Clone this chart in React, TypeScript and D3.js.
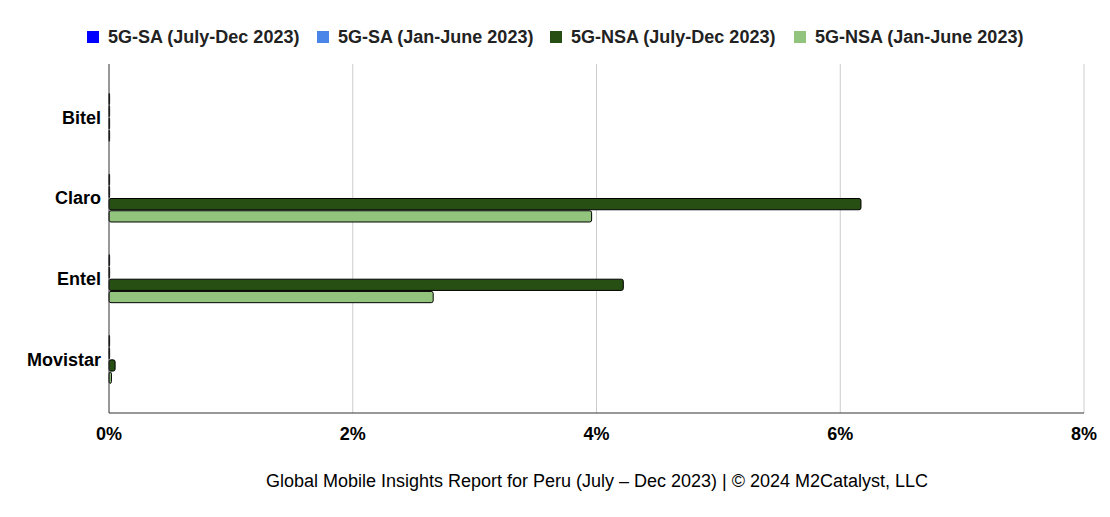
import React from "react";
import * as d3 from "d3";

const categories = ["Bitel", "Claro", "Entel", "Movistar"];
const seriesNames = [
  "5G-SA (July-Dec 2023)",
  "5G-SA (Jan-June 2023)",
  "5G-NSA (July-Dec 2023)",
  "5G-NSA (Jan-June 2023)",
];
const seriesColors = ["#0000ff", "#4a86e8", "#274e13", "#93c47d"];
const saJulDec = [0.005, 0.005, 0.005, 0.005];
const saJanJun = [0.005, 0.005, 0.005, 0.005];
const nsaJulDec = [0.005, 6.17, 4.22, 0.05];
const nsaJanJun = [0.005, 3.96, 2.66, 0.02];
const seriesValues = [saJulDec, saJanJun, nsaJulDec, nsaJanJun];
const xTicks = [0, 2, 4, 6, 8];
const footer = "Global Mobile Insights Report for Peru (July \u2013 Dec 2023) | \u00a9 2024 M2Catalyst, LLC";

const W = 1110;
const H = 517;
const plotLeft = 109;
const plotRight = 1084;
const plotTop = 64;
const plotBottom = 413;
const legendX = [87, 317, 550, 794];

export default function App() {
  const x = d3.scaleLinear().domain([0, 8]).range([plotLeft, plotRight]);
  const y = d3
    .scaleBand<string>()
    .domain(categories)
    .range([77, 399.7])
    .paddingInner(0.393)
    .paddingOuter(0.1965);
  const inner = d3
    .scaleBand<number>()
    .domain(d3.range(seriesNames.length))
    .range([0, y.bandwidth()])
    .padding(0);
  const font = "'Liberation Sans', Arial, sans-serif";

  return (
    <svg
      width={W}
      height={H}
      style={{ position: "absolute", left: 0, top: 0, background: "#fff" }}
      fontFamily={font}
    >
      <rect x={0} y={0} width={W} height={H} fill="#fff" />
      {/* legend */}
      {seriesNames.map((s, i) => (
        <g key={s} transform={`translate(${legendX[i]},37)`}>
          <rect x={0} y={-6} width={12} height={12} fill={seriesColors[i]} />
          <text x={21} y={0} dy="0.35em" fontSize={18} fontWeight="bold" fill="#222">
            {s}
          </text>
        </g>
      ))}
      {/* gridlines */}
      {xTicks.slice(1).map((t) => (
        <line
          key={t}
          x1={x(t)}
          x2={x(t)}
          y1={plotTop}
          y2={plotBottom}
          stroke="#cccccc"
          strokeWidth={1}
        />
      ))}
      {/* bars */}
      {categories.map((c, ci) => (
        <g key={c} transform={`translate(0,${y(c)})`}>
          {seriesValues.map((vals, si) => (
            <rect
              key={si}
              x={x(0)}
              y={inner(si)! + 0.5}
              width={Math.max(0, x(vals[ci]) - x(0))}
              height={inner.bandwidth() - 1}
              rx={2}
              ry={2}
              fill={seriesColors[si]}
              stroke="#000"
              strokeWidth={1}
            />
          ))}
        </g>
      ))}
      {/* axes */}
      <line x1={plotLeft} x2={plotLeft} y1={plotTop} y2={plotBottom} stroke="#333" strokeWidth={1} />
      <line x1={plotLeft} x2={plotRight} y1={plotBottom} y2={plotBottom} stroke="#333" strokeWidth={1} />
      {/* category labels */}
      {categories.map((c) => (
        <text
          key={c}
          x={101}
          y={y(c)! + y.bandwidth() / 2}
          dy="0.35em"
          textAnchor="end"
          fontSize={18}
          fontWeight="bold"
          fill="#000"
        >
          {c}
        </text>
      ))}
      {/* x tick labels */}
      {xTicks.map((t) => (
        <text
          key={t}
          x={x(t)}
          y={434}
          dy="0.35em"
          textAnchor="middle"
          fontSize={18}
          fontWeight="bold"
          fill="#000"
        >
          {`${t}%`}
        </text>
      ))}
      {/* footer */}
      <text x={597} y={481} dy="0.35em" textAnchor="middle" fontSize={18} fill="#000">
        {footer}
      </text>
    </svg>
  );
}
